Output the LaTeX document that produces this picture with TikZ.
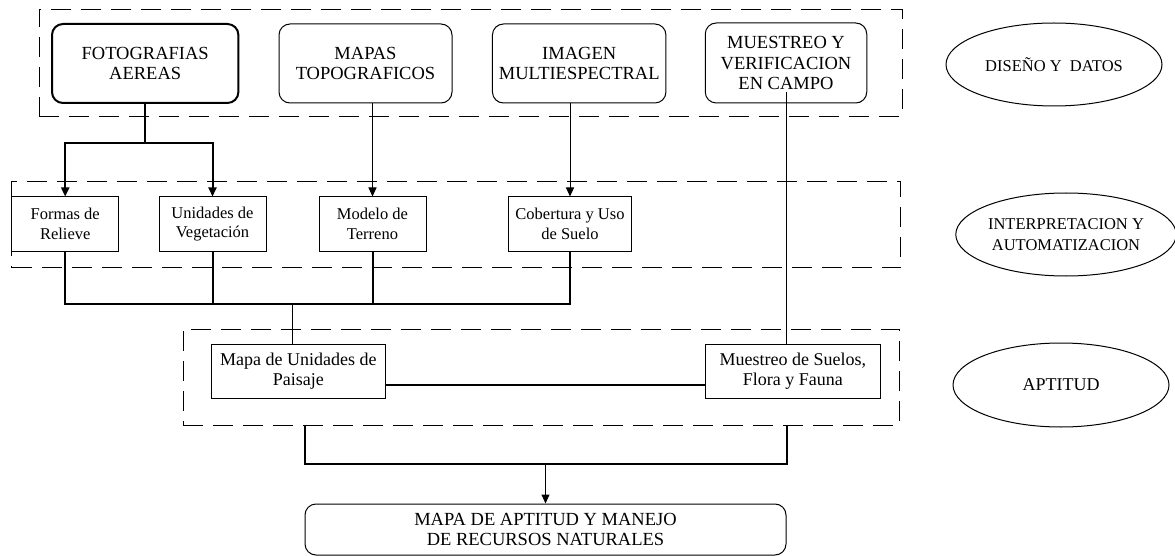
\documentclass[tikz,border=0pt]{standalone}
\usepackage{fontspec}
\setmainfont{Liberation Serif}
\usetikzlibrary{arrows.meta,shapes.geometric}

\begin{document}
\begin{tikzpicture}[x=1pt,y=-1pt,
    caja/.style={draw, rounded corners=11pt, line width=1pt, align=center, inner sep=0pt,
                 font=\fontsize{18.5}{20.7}\selectfont},
    cajita/.style={draw, line width=1pt, align=center, inner sep=0pt, minimum height=54,
                   font=\fontsize{16.5}{19.7}\selectfont},
    grupo/.style={draw, dash pattern=on 20pt off 10pt, line width=0.9pt, inner sep=0pt},
    etapa/.style={draw, ellipse, line width=1pt, align=center, inner sep=0pt,
                  font=\fontsize{16.5}{20.6}\selectfont},
    bus/.style={line width=2pt},
    linea/.style={line width=1pt},
    flecha/.style={line width=1pt, -{Triangle[length=9pt,width=8pt]}}]
             \useasboundingbox (0,0) rectangle (1175,556);

             \node[grupo, minimum width=862.6, minimum height=106.7] (g1) at (470.7, 62.7) {};
             \node[grupo, minimum width=889.2, minimum height=86.7] (g2) at (456.1, 224.4) {};
             \node[grupo, minimum width=716, minimum height=96] (g3) at (541, 377) {};

             \node[caja, line width=2pt, minimum width=186.4, minimum height=79] (fotos) at (145.2, 63.5) {FOTOGRAFIAS\\AEREAS};
             \node[caja, minimum width=173, minimum height=79] (mapas) at (365.5, 63.5) {MAPAS\\TOPOGRAFICOS};
             \node[caja, minimum width=173.5, minimum height=79] (imagen) at (579.2, 63.5) {IMAGEN\\MULTIESPECTRAL};
             \node[caja, minimum width=161.5, minimum height=80] (campo) at (786, 63) {MUESTREO Y\\VERIFICACION\\EN CAMPO};

             \node[etapa, minimum width=216, minimum height=83] (diseno) at (1054, 64.5) {DISEÑO Y~ DATOS};
             \node[etapa, minimum width=212, minimum height=83] (interp) at (1066, 234.5) {INTERPRETACION Y\\AUTOMATIZACION};
             \node[etapa, font=\fontsize{18}{20}\selectfont, minimum width=216, minimum height=84] (aptitud) at (1061, 385) {APTITUD};

             \node[cajita, minimum width=107.3] (formas) at (65.2, 224) {Formas de\\Relieve};
             \node[cajita, minimum width=107] (veg) at (212.5, 224) {Unidades de\\Vegetación};
             \node[cajita, minimum width=107] (terreno) at (372.5, 224) {Modelo de\\Terreno};
             \node[cajita, minimum width=123] (cob) at (570, 224) {Cobertura y Uso\\de Suelo};

             \node[cajita, font=\fontsize{18}{20.5}\selectfont, minimum width=174] (mapa) at (298.4, 371) {Mapa de Unidades de\\Paisaje};
             \node[cajita, font=\fontsize{18}{20.5}\selectfont, minimum width=174.3] (suelos) at (792.9, 371) {Muestreo de Suelos,\\Flora y Fauna};

             \node[caja, minimum width=481, minimum height=51] (final) at (545.5, 529.5) {MAPA DE APTITUD Y MANEJO\\DE RECURSOS NATURALES};

             \coordinate (b1) at (145.2, 143.3);
             \coordinate (b2) at (292, 304);
             \coordinate (b3) at (545.5, 464);

             \draw[bus] (fotos.south) -- (b1);
             \draw[bus, -{Triangle[length=9pt,width=8pt]}] (b1) -| (formas.north);
             \draw[bus, -{Triangle[length=9pt,width=8pt]}] (b1) -| (veg.north);
             \draw[flecha] (mapas.south -| terreno.north) -- (terreno.north);
             \draw[flecha] (imagen.south -| cob.north) -- (cob.north);
             \draw[linea] ([yshift=11pt]campo.south) -- (campo.south |- suelos.north);

             \draw[bus] (formas.south) |- (b2) -| (cob.south);
             \draw[bus] (veg.south) -- (veg.south |- b2);
             \draw[bus] (terreno.south) -- (terreno.south |- b2);
             \draw[linea] (b2) -- (b2 |- mapa.north);

             \draw[bus] ([yshift=-14pt]mapa.east) -- ([yshift=-14pt]suelos.west);

             \draw[bus] (final.west |- g3.south) |- (b3) -| (final.east |- g3.south);
             \draw[flecha] (b3) -- (final.north);
\end{tikzpicture}
\end{document}
